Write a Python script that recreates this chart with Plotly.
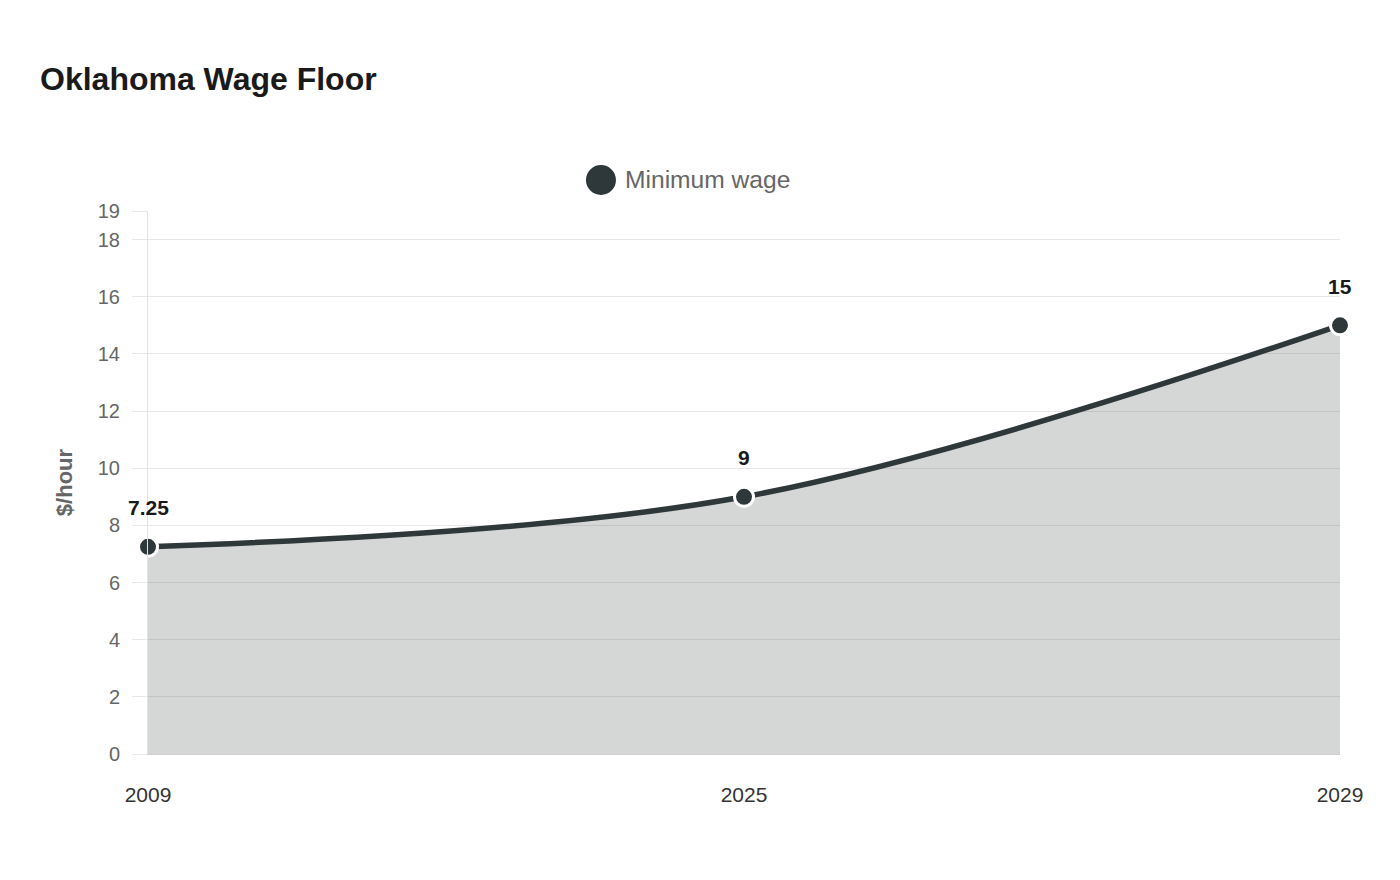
import plotly.graph_objects as go

years = ["2009", "2025", "2029"]
wage = [7.25, 9, 15]
y_ticks = [0, 2, 4, 6, 8, 10, 12, 14, 16, 18, 19]

font_family = "Liberation Sans, Arial, sans-serif"
line_color = "#2e3739"
xpos = list(range(len(years)))

fig = go.Figure()
fig.add_scatter(
    x=xpos, y=wage, name="Minimum wage",
    mode="lines+markers", cliponaxis=False,
    line=dict(color=line_color, width=5.5, shape="spline", smoothing=1),
    marker=dict(size=19, color=line_color, line=dict(color="white", width=3)),
    fill="tozeroy", fillcolor="rgba(46,55,57,0.2)",
    showlegend=False, customdata=years, hovertemplate="%{customdata}: %{y}<extra></extra>",
)

# value labels above each point
for i, v in zip(xpos, wage):
    fig.add_annotation(x=i, y=v, text=f"<b>{v:g}</b>", showarrow=False, yshift=39,
                       font=dict(family=font_family, size=21, color="#1a1a1a"))

# legend drawn by hand so the swatch can be large
fig.add_shape(type="circle", xref="paper", yref="paper", xsizemode="pixel", ysizemode="pixel",
              xanchor=0.380, yanchor=1.0571, x0=-15, x1=15, y0=-15, y1=15,
              fillcolor=line_color, line=dict(width=0))
fig.add_annotation(xref="paper", yref="paper", x=0.3985, y=1.0571, xanchor="left", yanchor="middle",
                   text="Minimum wage", showarrow=False,
                   font=dict(family=font_family, size=24.6, color="#666666"))

fig.update_layout(
    width=1400, height=880,
    margin=dict(l=148, r=60, t=211, b=126, autoexpand=False),
    paper_bgcolor="white", plot_bgcolor="white",
    font=dict(family=font_family, color="#666666"),
    title=dict(text="<b>Oklahoma Wage Floor</b>", x=40 / 1400, xref="container", xanchor="left",
               y=1 - 79 / 880, yref="container", yanchor="middle",
               font=dict(size=32, color="#1a1a1a", family=font_family)),
)
fig.update_xaxes(
    range=[0, 2], tickvals=xpos, ticktext=years, showgrid=False, zeroline=False,
    showline=True, linecolor="#d0d0d0", linewidth=1,
    ticks="", ticklabelstandoff=22,
    tickfont=dict(size=21, color="#333333"),
)
fig.update_yaxes(
    range=[0, 19], tickvals=y_ticks, showgrid=True, gridcolor="#e8e8e8", gridwidth=1,
    zeroline=False, showline=True, linecolor="#e3e3e3", linewidth=1,
    ticks="outside", ticklen=15, tickcolor="#e8e8e8", ticklabelstandoff=8,
    tickfont=dict(size=20, color="#666666"),
    title=dict(text="<b>$/hour</b>", standoff=19, font=dict(size=22, color="#666666")),
)

fig.write_html("out.html", config={"displayModeBar": False},
               post_script="document.body.style.margin='0';")
